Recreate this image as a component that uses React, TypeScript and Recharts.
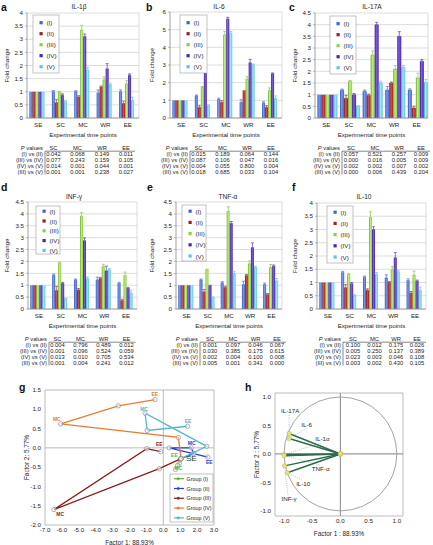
import React from 'react';
import {
  BarChart, Bar, XAxis, YAxis, CartesianGrid, ErrorBar, ScatterChart, Scatter,
  ReferenceLine, ReferenceDot, ReferenceArea, Label,
} from 'recharts';

const FONT = '"Liberation Sans", Arial, Helvetica, sans-serif';

// ---------- shared categories ----------
const TIME_POINTS = ['SE', 'SC', 'MC', 'WR', 'EE'];
const GROUPS = ['(I)', '(II)', '(III)', '(IV)', '(V)'];
const P_COLUMNS = ['SC', 'MC', 'WR', 'EE'];
const P_ROWS = ['(I) vs (II)', '(III) vs (IV)', '(IV) vs (V)', '(III) vs (V)'];

// ---------- tick labels ----------
const TICKS_4 = [0, 0.5, 1, 1.5, 2, 2.5, 3, 3.5, 4];
const TICKS_45 = [0, 0.5, 1, 1.5, 2, 2.5, 3, 3.5, 4, 4.5];
const TICKS_6 = [0, 1, 2, 3, 4, 5, 6];

// ---------- a: IL-1β (rows = groups I..V, columns = SE SC MC WR EE) ----------
const IL1B_MEAN = [
  [1, 1.0, 1.0, 0.95, 1.0],
  [1, 0.58, 0.8, 1.18, 0.55],
  [1, 1.0, 3.35, 1.45, 1.3],
  [1, 0.87, 3.1, 1.87, 1.63],
  [1, 0.62, 1.82, 1.27, 0.67],
];
const IL1B_ERR = [
  [0, 0.05, 0.04, 0.12, 0.07],
  [0, 0.12, 0.05, 0.04, 0.1],
  [0, 0.02, 0.18, 0.12, 0.12],
  [0, 0.05, 0.1, 0.2, 0.05],
  [0, 0.05, 0.1, 0.06, 0.12],
];
const IL1B_P = [
  ['0.042', '0.068', '0.149', '0.011'],
  ['0.077', '0.243', '0.159', '0.105'],
  ['0.014', '0.001', '0.044', '0.001'],
  ['0.001', '0.001', '0.238', '0.027'],
];

// ---------- b: IL-6 ----------
const IL6_MEAN = [
  [1, 1.25, 1.05, 0.88, 0.85],
  [1, 0.6, 0.88, 1.5, 0.6],
  [1, 1.75, 4.7, 2.2, 1.55],
  [1, 2.58, 5.6, 3.12, 2.5],
  [1, 0.7, 4.8, 3.0, 1.1],
];
const IL6_ERR = [
  [0, 0.05, 0.07, 0.15, 0.07],
  [0, 0.12, 0.1, 0.05, 0.1],
  [0, 0.03, 0.2, 0.15, 0.15],
  [0, 0.05, 0.1, 0.2, 0.05],
  [0, 0.05, 0.1, 0.05, 0.15],
];
const IL6_P = [
  ['0.015', '0.189', '0.064', '0.144'],
  ['0.087', '0.106', '0.047', '0.016'],
  ['0.004', '0.055', '0.800', '0.004'],
  ['0.018', '0.685', '0.033', '0.104'],
];

// ---------- c: IL-17A ----------
const IL17A_MEAN = [
  [1, 1.2, 1.15, 1.2, 1.2],
  [1, 0.85, 0.98, 1.5, 0.43],
  [1, 1.58, 2.7, 2.1, 1.72],
  [1, 1.0, 4.0, 3.5, 2.43],
  [1, 0.5, 1.5, 2.17, 1.53],
];
const IL17A_ERR = [
  [0, 0.04, 0.05, 0.15, 0.05],
  [0, 0.12, 0.04, 0.04, 0.08],
  [0, 0.03, 0.18, 0.15, 0.2],
  [0, 0.05, 0.1, 0.2, 0.08],
  [0, 0.03, 0.08, 0.08, 0.12],
];
const IL17A_P = [
  ['0.057', '0.521', '0.257', '0.009'],
  ['0.000', '0.016', '0.005', '0.009'],
  ['0.002', '0.002', '0.007', '0.002'],
  ['0.000', '0.006', '0.439', '0.204'],
];

// ---------- d: INF-γ ----------
const INFG_MEAN = [
  [1, 1.42, 1.22, 1.22, 1.07],
  [1, 0.77, 0.8, 1.28, 0.35],
  [1, 1.93, 3.9, 1.78, 1.4],
  [1, 1.07, 2.87, 1.6, 0.87],
  [1, 0.43, 1.27, 1.65, 0.67],
];
const INFG_ERR = [
  [0, 0.05, 0.04, 0.12, 0.05],
  [0, 0.18, 0.06, 0.05, 0.06],
  [0, 0.04, 0.15, 0.1, 0.15],
  [0, 0.05, 0.12, 0.2, 0.04],
  [0, 0.03, 0.08, 0.05, 0.12],
];
const INFG_P = [
  ['0.004', '0.796', '0.489', '0.012'],
  ['0.001', '0.096', '0.524', '0.059'],
  ['0.013', '0.010', '0.705', '0.534'],
  ['0.001', '0.004', '0.241', '0.012'],
];

// ---------- e: TNF-α ----------
const TNFA_MEAN = [
  [1, 1.22, 1.1, 1.02, 1.02],
  [1, 0.72, 0.9, 1.4, 0.6],
  [1, 1.65, 4.1, 1.9, 1.75],
  [1, 0.97, 3.6, 2.58, 1.8],
  [1, 0.48, 1.48, 1.75, 1.18],
];
const TNFA_ERR = [
  [0, 0.04, 0.05, 0.15, 0.07],
  [0, 0.1, 0.06, 0.05, 0.05],
  [0, 0.03, 0.2, 0.12, 0.12],
  [0, 0.03, 0.08, 0.2, 0.05],
  [0, 0.03, 0.1, 0.05, 0.1],
];
const TNFA_P = [
  ['0.001', '0.097', '0.046', '0.067'],
  ['0.030', '0.385', '0.175', '0.615'],
  ['0.002', '0.004', '0.100', '0.008'],
  ['0.005', '0.001', '0.341', '0.000'],
];

// ---------- f: IL-10 ----------
const IL10_MEAN = [
  [1, 1.37, 1.2, 1.17, 1.07],
  [1, 0.8, 0.7, 1.0, 0.6],
  [1, 1.3, 3.45, 1.48, 1.28],
  [1, 0.95, 3.0, 1.93, 1.05],
  [1, 0.5, 1.3, 1.4, 0.7],
];
const IL10_ERR = [
  [0, 0.05, 0.04, 0.12, 0.07],
  [0, 0.12, 0.06, 0.04, 0.06],
  [0, 0.04, 0.22, 0.12, 0.15],
  [0, 0.05, 0.1, 0.2, 0.04],
  [0, 0.04, 0.08, 0.06, 0.12],
];
const IL10_P = [
  ['0.100', '0.012', '0.175', '0.026'],
  ['0.005', '0.250', '0.137', '0.389'],
  ['0.023', '0.003', '0.046', '0.108'],
  ['0.003', '0.002', '0.430', '0.105'],
];

// ---------- g: PCA trajectories (SE, SC, MC, WR, EE) ----------
const PCA_GROUPS = ['Group (I)', 'Group (II)', 'Group (III)', 'Group (IV)', 'Group (V)'];
const PCA_X_TICKS = [-7, -6, -5, -4, -3, -2, -1, 0, 1, 2, 3];
const PCA_Y_TICKS = [-2, -1.5, -1, -0.5, 0, 0.5, 1, 1.5];
const PCA_I = [[1.05, -0.28], [0.95, -0.4], [0.72, -0.56], [0.85, -0.46], [1.0, -0.3]];
const PCA_II = [[1.05, -0.28], [1.8, -0.15], [1.66, 0.0], [0.35, 0.0], [2.64, -0.24]];
const PCA_III = [[1.05, -0.28], [-0.24, -0.54], [-6.47, -1.6], [-0.98, -0.02], [-0.15, -0.1]];
const PCA_IV = [[1.05, -0.28], [0.89, 0.27], [-6.07, 0.62], [-2.66, 1.09], [-0.49, 1.25]];
const PCA_V = [[1.05, -0.28], [2.57, 0.04], [-1.08, 0.9], [-0.95, 0.45], [1.44, 0.56]];
const PCA_NOTES = [
  { text: 'EE', group: 3, x: -0.5, y: 1.38 },
  { text: 'MC', group: 3, x: -6.3, y: 0.75 },
  { text: 'MC', group: 4, x: -1.14, y: 1.01 },
  { text: 'EE', group: 4, x: 1.46, y: 0.7 },
  { text: 'MC', group: 1, x: 1.68, y: 0.13 },
  { text: 'EE', group: 1, x: 2.72, y: -0.36 },
  { text: 'EE', group: 2, x: -0.24, y: 0.1 },
  { text: 'MC', group: 2, x: -6.1, y: -1.72 },
  { text: 'EE', group: 0, x: 0.66, y: -0.18 },
  { text: 'MC', group: 0, x: 0.9, y: -0.53 },
];

// ---------- h: correlation circle ----------
const CIRCLE_TICKS = [-1, -0.5, 0, 0.5, 1];
const VARIABLES = ['IL-17A', 'IL-6', 'IL-1α', 'TNF-α', 'IL-10', 'INF-γ'];
const LOADING_F1 = [-0.91, -0.91, -1.0, -1.0, -0.94, -0.99];
const LOADING_F2 = [0.36, 0.27, -0.01, -0.03, -0.33, -0.21];
const VAR_LABEL_X = [-0.89, -0.6, -0.32, -0.35, -0.66, -0.91];
const VAR_LABEL_Y = [0.75, 0.51, 0.26, -0.26, -0.53, -0.79];

// ---------- styles ----------
const GROUP_COLORS = ['#3b64d6', '#a11d1d', '#8dd23c', '#4a23b6', '#5ec6d8'];
const GROUP_LIGHT = ['#7d9cf0', '#d25252', '#bff07a', '#7f5fe6', '#a6e8f2'];
const GROUP_DARK = ['#2a4aa8', '#6e1010', '#62a022', '#321884', '#3e9fb0'];
const ERR_COLORS = ['#5b7ed8', '#b04a4a', '#9cc86a', '#6a52c0', '#7ccbd8'];
const PCA_COLORS = ['#5cb530', '#2b42c8', '#8b1b1b', '#e57c33', '#55b8cc'];
const TEXT = '#1e1e1e';

type Layout = {
  left: number; top: number; width: number;
  plotLeft: number; plotRight: number; plotTop: number; plotBottom: number; yLabelX: number;
};

const LAYOUTS: Layout[] = [
  { left: 0, top: 0, width: 145, plotLeft: 27, plotRight: 139, plotTop: 13, plotBottom: 118, yLabelX: 7 },
  { left: 145, top: 0, width: 143, plotLeft: 170, plotRight: 282, plotTop: 12, plotBottom: 118, yLabelX: 152 },
  { left: 288, top: 0, width: 145, plotLeft: 315, plotRight: 428, plotTop: 13, plotBottom: 118, yLabelX: 295 },
  { left: 0, top: 178, width: 145, plotLeft: 28, plotRight: 137, plotTop: 202, plotBottom: 309, yLabelX: 7 },
  { left: 145, top: 178, width: 143, plotLeft: 176, plotRight: 282, plotTop: 202, plotBottom: 309, yLabelX: 152 },
  { left: 288, top: 178, width: 145, plotLeft: 317, plotRight: 426, plotTop: 203, plotBottom: 309, yLabelX: 295 },
];

const PANELS = [
  { letter: 'a', title: 'IL-1β', mean: IL1B_MEAN, err: IL1B_ERR, p: IL1B_P, ticks: TICKS_4 },
  { letter: 'b', title: 'IL-6', mean: IL6_MEAN, err: IL6_ERR, p: IL6_P, ticks: TICKS_6 },
  { letter: 'c', title: 'IL-17A', mean: IL17A_MEAN, err: IL17A_ERR, p: IL17A_P, ticks: TICKS_45 },
  { letter: 'd', title: 'INF-γ', mean: INFG_MEAN, err: INFG_ERR, p: INFG_P, ticks: TICKS_45 },
  { letter: 'e', title: 'TNF-α', mean: TNFA_MEAN, err: TNFA_ERR, p: TNFA_P, ticks: TICKS_45 },
  { letter: 'f', title: 'IL-10', mean: IL10_MEAN, err: IL10_ERR, p: IL10_P, ticks: TICKS_4 },
];

// overlay decorations
const LETTER_POS = [[1, 11], [146, 11], [289, 11], [1, 191], [147, 191], [292, 191]];
const TITLE_POS = [[79, 9], [219, 9], [372, 9], [74, 199], [228, 199], [364, 199]];
const LEGEND_BOX = [
  { x: 33, y: 15, w: 26, h: 58, first: 7.7, step: 11 },
  { x: 180, y: 15, w: 27, h: 58, first: 7.7, step: 11 },
  { x: 330, y: 16, w: 26, h: 58, first: 7.7, step: 11 },
  { x: 36, y: 206, w: 24, h: 48, first: 5.2, step: 9.8 },
  { x: 182, y: 205, w: 24, h: 56, first: 6.2, step: 11.2 },
  { x: 327, y: 206, w: 26, h: 57, first: 6.2, step: 11.2 },
];
const TABLE_POS = [[13, 148.3], [158, 148.3], [310, 148.3], [17, 339.3], [168, 339.3], [311, 339.3]];
const TABLE_COLS = [
  [40.5, 64.5, 89, 113],
  [40.5, 64.5, 89, 113],
  [41, 65, 89, 111],
  [40.5, 63.5, 86.5, 109.5],
  [42, 65, 87.5, 109],
  [42, 63.5, 85, 106],
];

const tickStyle = { fontSize: 6.2, fill: TEXT, fontFamily: FONT };

function BarPanel({ layout, mean, err, ticks, id }: { layout: Layout; mean: number[][]; err: number[][]; ticks: number[]; id: string }) {
  const YW = 20;
  const XH = 22;
  const data = TIME_POINTS.map((t, i) => {
    const row: Record<string, unknown> = { t };
    GROUPS.forEach((_, k) => {
      row['g' + k] = mean[k][i];
      row['e' + k] = err[k][i] > 0 ? [0, err[k][i]] : null;
    });
    return row;
  });
  const height = layout.plotBottom - layout.top + XH;
  const margin = {
    top: layout.plotTop - layout.top,
    right: layout.left + layout.width - layout.plotRight,
    bottom: 0,
    left: layout.plotLeft - layout.left - YW,
  };
  return (
    <div style={{ position: 'absolute', left: layout.left, top: layout.top }}>
      <BarChart width={layout.width} height={height} data={data} margin={margin} barCategoryGap="11%" barGap={0}>
        <defs>
          {GROUPS.map((g, k) => (
            <linearGradient key={g} id={`${id}-grad-${k}`} x1="0" y1="0" x2="1" y2="0">
              <stop offset="0%" stopColor={GROUP_DARK[k]} />
              <stop offset="40%" stopColor={GROUP_LIGHT[k]} />
              <stop offset="100%" stopColor={GROUP_COLORS[k]} />
            </linearGradient>
          ))}
        </defs>
        <CartesianGrid
          stroke="#c6c6c6"
          strokeWidth={0.6}
          verticalCoordinatesGenerator={(p: any) => (p && p.offset ? [p.offset.left + p.offset.width] : [])}
        />
        <XAxis
          dataKey="t"
          height={XH}
          tickLine={false}
          tickSize={0}
          tickMargin={5}
          interval={0}
          axisLine={{ stroke: '#8c8c8c', strokeWidth: 0.8 }}
          tick={tickStyle}
        >
          <Label value="Experimental time points" position="insideBottom" offset={3} style={{ fontSize: 6.2, fill: TEXT, fontFamily: FONT }} />
        </XAxis>
        <YAxis
          width={YW}
          type="number"
          domain={[0, ticks[ticks.length - 1]]}
          ticks={ticks}
          interval={0}
          allowDataOverflow
          tickSize={2}
          tickMargin={2}
          axisLine={{ stroke: '#8c8c8c', strokeWidth: 0.8 }}
          tickLine={{ stroke: '#8c8c8c', strokeWidth: 0.6 }}
          tick={tickStyle}
        >
          <Label
            value="Fold change"
            angle={-90}
            position="center"
            dx={layout.yLabelX - (layout.plotLeft - YW / 2)}
            style={{ fontSize: 6.2, fill: TEXT, fontFamily: FONT }}
          />
        </YAxis>
        {GROUPS.map((g, k) => (
          <Bar key={g} dataKey={'g' + k} name={g} fill={`url(#${id}-grad-${k})`} isAnimationActive={false}>
            <ErrorBar dataKey={'e' + k} width={1.5} stroke={ERR_COLORS[k]} strokeWidth={0.8} direction="y" />
          </Bar>
        ))}
      </BarChart>
    </div>
  );
}

function PcaRing(props: any) {
  const { cx, cy } = props;
  if (cx == null || cy == null) return null;
  return <circle cx={cx} cy={cy} r={2.2} fill="#ffffff" fillOpacity={0.5} stroke="#8f8f8f" strokeWidth={0.7} />;
}

function LoadingDot(props: any) {
  const { cx, cy } = props;
  if (cx == null || cy == null) return null;
  return <circle cx={cx} cy={cy} r={2.2} fill="#e4e27a" stroke="#b9b65a" strokeWidth={0.5} />;
}

function PcaPanel() {
  const series = [PCA_I, PCA_II, PCA_III, PCA_IV, PCA_V];
  return (
    <div style={{ position: 'absolute', left: 0, top: 375 }}>
      <ScatterChart width={220} height={170} margin={{ top: 15, right: 6, bottom: 0, left: 21 }}>
        <XAxis
          type="number"
          dataKey="x"
          domain={[-7, 3]}
          ticks={PCA_X_TICKS}
          interval={0}
          allowDataOverflow
          tickFormatter={(v: number) => v.toFixed(1)}
          height={20}
          tickLine={false}
          tickSize={0}
          tickMargin={3}
          axisLine={false}
          tick={tickStyle}
        >
          <Label value="Factor 1: 88.93%" position="insideBottom" offset={0.5} style={{ fontSize: 6.4, fill: TEXT, fontFamily: FONT }} />
        </XAxis>
        <YAxis
          type="number"
          dataKey="y"
          domain={[-2, 1.5]}
          ticks={PCA_Y_TICKS}
          interval={0}
          allowDataOverflow
          tickFormatter={(v: number) => v.toFixed(1)}
          width={24}
          tickLine={false}
          tickSize={0}
          tickMargin={4}
          axisLine={false}
          tick={tickStyle}
        >
          <Label value="Factor 2: 5.77%" angle={-90} position="center" dx={-6} style={{ fontSize: 6.4, fill: TEXT, fontFamily: FONT }} />
        </YAxis>
        <ReferenceArea x1={-7} x2={3} y1={-2} y2={1.5} fill="none" stroke="#a9a9a9" strokeWidth={0.8} ifOverflow="visible" />
        <ReferenceLine x={0} stroke="#a9a9a9" strokeWidth={0.8} />
        <ReferenceLine y={0} stroke="#a9a9a9" strokeWidth={0.8} />
        {series.map((pts, k) => (
          <Scatter
            key={PCA_GROUPS[k]}
            name={PCA_GROUPS[k]}
            data={pts.map(([x, y]) => ({ x, y }))}
            line={{ stroke: PCA_COLORS[k], strokeWidth: 1.3 }}
            lineType="joint"
            fill={PCA_COLORS[k]}
            shape={PcaRing}
            isAnimationActive={false}
          />
        ))}
        {PCA_NOTES.map((n, i) => (
          <ReferenceDot
            key={'n' + i}
            x={n.x}
            y={n.y}
            r={0}
            fill="none"
            stroke="none"
            label={{ value: n.text, position: 'center', fill: PCA_COLORS[n.group], fontSize: 5, fontWeight: 'bold', fontFamily: FONT }}
          />
        ))}
        <ReferenceDot
          x={PCA_I[0][0]}
          y={PCA_I[0][1]}
          r={0}
          fill="none"
          stroke="none"
          label={{ value: 'SE', position: 'right', offset: 5, fill: '#333', fontSize: 8, fontFamily: FONT }}
        />
      </ScatterChart>
    </div>
  );
}

function CirclePanel() {
  return (
    <div style={{ position: 'absolute', left: 248, top: 380 }}>
      <ScatterChart width={185} height={165} margin={{ top: 13, right: 30, bottom: 7, left: 5 }}>
        <XAxis
          type="number"
          dataKey="x"
          domain={[-1.16, 1.11]}
          ticks={CIRCLE_TICKS}
          interval={0}
          allowDataOverflow
          tickFormatter={(v: number) => v.toFixed(1)}
          height={22}
          tickLine={false}
          tickSize={0}
          tickMargin={3}
          axisLine={false}
          tick={tickStyle}
        >
          <Label value="Factor 1 : 88.93%" position="insideBottom" offset={2.5} style={{ fontSize: 6.4, fill: TEXT, fontFamily: FONT }} />
        </XAxis>
        <YAxis
          type="number"
          dataKey="y"
          domain={[-1.09, 1.07]}
          ticks={CIRCLE_TICKS}
          interval={0}
          allowDataOverflow
          tickFormatter={(v: number) => v.toFixed(1)}
          width={22}
          tickLine={false}
          tickSize={0}
          tickMargin={4}
          axisLine={false}
          tick={tickStyle}
        >
          <Label value="Factor 2 : 5.77%" angle={-90} position="center" dx={-7} style={{ fontSize: 6.4, fill: TEXT, fontFamily: FONT }} />
        </YAxis>
        <ReferenceArea x1={-1.16} x2={1.11} y1={-1.09} y2={1.07} fill="none" stroke="#a9a9a9" strokeWidth={0.8} ifOverflow="visible" />
        <ReferenceArea
          x1={-1}
          x2={1}
          y1={-1}
          y2={1}
          ifOverflow="visible"
          shape={(p: any) => (
            <ellipse
              cx={p.x + p.width / 2}
              cy={p.y + p.height / 2}
              rx={Math.abs(p.width / 2)}
              ry={Math.abs(p.height / 2)}
              fill="none"
              stroke="#8a8a8a"
              strokeWidth={0.8}
            />
          )}
        />
        <ReferenceLine x={0} stroke="#9a9a9a" strokeWidth={1.2} />
        <ReferenceLine y={0} stroke="#9a9a9a" strokeWidth={1.2} />
        {VARIABLES.map((v, i) => (
          <ReferenceLine
            key={'c' + v}
            segment={[{ x: VAR_LABEL_X[i] - 0.02, y: VAR_LABEL_Y[i] + (VAR_LABEL_Y[i] > 0 ? -0.07 : 0.07) }, { x: LOADING_F1[i], y: LOADING_F2[i] }]}
            stroke="#8fa6b8"
            strokeWidth={0.7}
            strokeDasharray="1 1.2"
          />
        ))}
        {VARIABLES.map((v, i) => (
          <Scatter
            key={'v' + v}
            name={v}
            data={[{ x: 0, y: 0 }, { x: LOADING_F1[i], y: LOADING_F2[i] }]}
            line={{ stroke: '#2f6b4c', strokeWidth: 1.5 }}
            lineType="joint"
            fill="#e4e27a"
            shape={LoadingDot}
            isAnimationActive={false}
          />
        ))}
        {VARIABLES.map((v, i) => (
          <ReferenceDot
            key={'l' + v}
            x={VAR_LABEL_X[i]}
            y={VAR_LABEL_Y[i]}
            r={0}
            fill="none"
            stroke="none"
            label={{ value: v, position: 'center', fill: TEXT, fontSize: 6.2, fontFamily: FONT }}
          />
        ))}
      </ScatterChart>
    </div>
  );
}

function PTable({ x, y, values, cols }: { x: number; y: number; values: string[][]; cols: number[] }) {
  const rowH = 5.8;
  const lineEnd = cols[3] + 9;
  return (
    <g fontFamily={FONT} fontSize={5.8} fill={TEXT}>
      <text x={x + 30} y={y} textAnchor="end" dominantBaseline="central">
        <tspan fontStyle="italic">P</tspan> values
      </text>
      {P_COLUMNS.map((c, j) => (
        <text key={c} x={x + cols[j]} y={y} textAnchor="middle" dominantBaseline="central">{c}</text>
      ))}
      <line x1={x + 32} x2={x + lineEnd} y1={y + 2.9} y2={y + 2.9} stroke="#555" strokeWidth={0.7} />
      <line x1={x + 32} x2={x + 32} y1={y + 2.9} y2={y + rowH * 4 + 3} stroke="#555" strokeWidth={0.7} />
      {P_ROWS.map((r, i) => (
        <g key={r}>
          <text x={x + 30} y={y + rowH * (i + 1)} textAnchor="end" dominantBaseline="central">{r}</text>
          {values[i].map((v, j) => (
            <text key={j} x={x + cols[j]} y={y + rowH * (i + 1)} textAnchor="middle" dominantBaseline="central">{v}</text>
          ))}
        </g>
      ))}
    </g>
  );
}

function Overlay() {
  return (
    <svg width={433} height={545} style={{ position: 'absolute', left: 0, top: 0, pointerEvents: 'none' }}>
      {PANELS.map((p, i) => (
        <g key={p.letter}>
          <text x={LETTER_POS[i][0]} y={LETTER_POS[i][1]} fontFamily={FONT} fontWeight="bold" fontSize={10.5} fill="#111">{p.letter}</text>
          <text x={TITLE_POS[i][0]} y={TITLE_POS[i][1]} fontFamily={FONT} fontSize={6.6} fill={TEXT} textAnchor="middle">{p.title}</text>
          <rect x={LEGEND_BOX[i].x} y={LEGEND_BOX[i].y} width={LEGEND_BOX[i].w} height={LEGEND_BOX[i].h} fill="#fff" stroke="#9a9a9a" strokeWidth={0.6} />
          {GROUPS.map((g, k) => {
            const cy = LEGEND_BOX[i].y + LEGEND_BOX[i].first + k * LEGEND_BOX[i].step;
            return (
              <g key={g}>
                <rect x={LEGEND_BOX[i].x + 6.5} y={cy - 1.6} width={3.2} height={3.2} fill={GROUP_COLORS[k]} />
                <text x={LEGEND_BOX[i].x + 13.5} y={cy} dominantBaseline="central" fontFamily={FONT} fontSize={6.2} fill={TEXT}>{g}</text>
              </g>
            );
          })}
          <PTable x={TABLE_POS[i][0]} y={TABLE_POS[i][1]} values={p.p} cols={TABLE_COLS[i]} />
        </g>
      ))}
      <text x={19} y={391} fontFamily={FONT} fontWeight="bold" fontSize={10.5} fill="#111">g</text>
      <text x={245} y={391} fontFamily={FONT} fontWeight="bold" fontSize={10.5} fill="#111">h</text>
      <rect x={170} y={474} width={43} height={48} fill="#fff" stroke="#9a9a9a" strokeWidth={0.6} />
      {PCA_GROUPS.map((g, k) => {
        const cy = 478.7 + k * 9.8;
        return (
          <g key={g}>
            <line x1={174} x2={184} y1={cy} y2={cy} stroke={PCA_COLORS[k]} strokeWidth={1.2} />
            <path d={`M${176} ${cy} l2.2 -1.8 l2.2 1.8 l-2.2 1.8 z`} fill={PCA_COLORS[k]} opacity={0.8} />
            <text x={186.5} y={cy} dominantBaseline="central" fontFamily={FONT} fontSize={5.4} fill={TEXT}>{g}</text>
          </g>
        );
      })}
    </svg>
  );
}

export default function App() {
  return (
    <div style={{ position: 'absolute', left: 0, top: 0, width: 433, height: 545, background: '#fff', overflow: 'hidden' }}>
      {PANELS.map((p, i) => (
        <BarPanel key={p.letter} id={'p' + p.letter} layout={LAYOUTS[i]} mean={p.mean} err={p.err} ticks={p.ticks} />
      ))}
      <PcaPanel />
      <CirclePanel />
      <Overlay />
    </div>
  );
}
